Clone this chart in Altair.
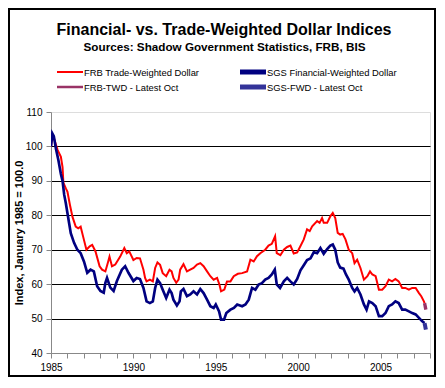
import altair as alt
import pandas as pd

# ---- data ----
frb_years = [1985.0, 1985.08, 1985.17, 1985.3, 1985.4, 1985.5, 1985.6, 1985.7, 1985.75, 1985.9,
             1986.0, 1986.15, 1986.3, 1986.5, 1986.65, 1986.8, 1986.95, 1987.15, 1987.35, 1987.5,
             1987.7, 1987.95, 1988.1, 1988.3, 1988.45, 1988.55, 1988.7, 1988.9, 1989.2, 1989.45,
             1989.6, 1989.75, 1990.0, 1990.2, 1990.4, 1990.61, 1990.71, 1990.8, 1991.0, 1991.18,
             1991.32, 1991.46, 1991.62, 1991.78, 1991.99, 1992.19, 1992.32, 1992.43, 1992.6, 1992.74,
             1992.84, 1993.04, 1993.25, 1993.45, 1993.65, 1993.86, 1994.06, 1994.26, 1994.47, 1994.67,
             1994.87, 1995.08, 1995.22, 1995.32, 1995.52, 1995.68, 1995.89, 1996.09, 1996.34, 1996.6,
             1996.9, 1997.1, 1997.3, 1997.5, 1997.7, 1998.0, 1998.2, 1998.4, 1998.6, 1998.7,
             1998.92, 1999.13, 1999.33, 1999.53, 1999.73, 1999.94, 2000.14, 2000.34, 2000.54, 2000.7,
             2000.85, 2001.15, 2001.3, 2001.45, 2001.55, 2001.76, 2001.95, 2002.1, 2002.25, 2002.4,
             2002.55, 2002.7, 2002.87, 2003.07, 2003.28, 2003.42, 2003.58, 2003.78, 2003.99, 2004.2,
             2004.36, 2004.5, 2004.7, 2004.9, 2005.1, 2005.3, 2005.5, 2005.7, 2005.9, 2006.1,
             2006.31, 2006.5, 2006.72, 2006.92, 2007.13, 2007.33, 2007.47, 2007.63, 2007.67]
frb_values = [100.0, 103.0, 102.5, 100.5, 99.0, 98.0, 97.0, 94.0, 89.5, 87.8,
              86.8, 83.0, 79.6, 76.7, 76.2, 76.7, 73.8, 70.0, 71.0, 71.4,
              69.5, 65.2, 64.2, 63.7, 66.2, 68.0, 65.2, 65.7, 68.0, 70.5,
              69.0, 69.5, 67.0, 67.6, 67.5, 64.2, 61.8, 60.8, 61.3, 60.8,
              64.7, 66.3, 65.6, 63.2, 62.3, 64.2, 63.7, 61.8, 60.4, 61.3,
              64.2, 65.8, 63.7, 64.2, 64.7, 65.7, 66.1, 65.2, 63.7, 62.3,
              61.3, 61.8, 59.9, 57.9, 58.4, 60.8, 60.8, 62.3, 63.0, 63.2,
              63.7, 67.1, 66.6, 68.1, 69.0, 70.0, 71.2, 71.7, 73.9, 69.0,
              68.4, 70.0, 70.8, 71.2, 68.9, 69.2, 71.1, 73.0, 75.9, 75.4,
              76.8, 78.3, 77.8, 79.2, 77.8, 77.8, 79.7, 80.7, 79.2, 74.9,
              74.4, 74.6, 73.0, 70.0, 69.0, 66.1, 67.1, 64.7, 61.3, 62.3,
              63.7, 62.8, 62.3, 58.4, 58.4, 59.4, 61.3, 60.8, 61.5, 60.8,
              58.9, 58.9, 58.4, 58.9, 58.9, 57.4, 56.5, 55.0, 54.5]

sgs_years = [1985.0, 1985.08, 1985.17, 1985.3, 1985.45, 1985.6, 1985.7, 1985.8, 1985.9, 1986.0,
             1986.1, 1986.2, 1986.4, 1986.6, 1986.8, 1987.0, 1987.2, 1987.4, 1987.6, 1987.8,
             1988.0, 1988.2, 1988.3, 1988.4, 1988.6, 1988.8, 1989.0, 1989.3, 1989.5, 1989.7,
             1990.0, 1990.2, 1990.4, 1990.61, 1990.8, 1991.0, 1991.18, 1991.32, 1991.46, 1991.62,
             1991.78, 1991.99, 1992.19, 1992.32, 1992.43, 1992.64, 1992.8, 1992.88, 1993.04, 1993.25,
             1993.45, 1993.65, 1993.86, 1994.06, 1994.26, 1994.47, 1994.67, 1994.87, 1995.0, 1995.2,
             1995.32, 1995.5, 1995.64, 1995.89, 1996.1, 1996.3, 1996.6, 1996.8, 1997.0, 1997.2,
             1997.4, 1997.6, 1997.8, 1998.0, 1998.2, 1998.4, 1998.58, 1998.7, 1998.9, 1999.13,
             1999.33, 1999.53, 1999.73, 1999.94, 2000.14, 2000.34, 2000.54, 2000.75, 2000.95, 2001.15,
             2001.35, 2001.55, 2001.76, 2001.95, 2002.1, 2002.25, 2002.4, 2002.55, 2002.75, 2002.9,
             2003.07, 2003.28, 2003.42, 2003.58, 2003.78, 2003.99, 2004.15, 2004.3, 2004.5, 2004.7,
             2004.9, 2005.1, 2005.3, 2005.5, 2005.7, 2005.9, 2006.1, 2006.31, 2006.5, 2006.72,
             2006.92, 2007.13, 2007.33, 2007.53, 2007.67]
sgs_values = [100.0, 103.8, 103.0, 99.3, 96.0, 92.0, 90.0, 86.0, 83.5, 80.6,
              77.7, 74.8, 72.0, 70.0, 69.0, 66.6, 63.3, 64.2, 63.7, 59.4,
              58.0, 57.5, 60.4, 61.8, 59.0, 58.0, 60.9, 64.2, 65.2, 63.3,
              60.9, 61.8, 61.5, 58.9, 55.0, 54.5, 55.0, 58.9, 61.3, 60.3,
              58.4, 56.0, 58.4, 57.4, 55.5, 53.8, 55.0, 57.9, 58.6, 56.5,
              57.0, 57.9, 57.0, 58.6, 57.4, 55.5, 53.6, 53.1, 54.1, 52.1,
              49.7, 49.7, 51.6, 52.6, 53.1, 54.1, 53.6, 54.1, 55.5, 58.9,
              58.4, 59.9, 60.3, 61.3, 61.8, 62.8, 64.2, 59.9, 58.9, 60.8,
              61.8, 60.8, 59.9, 61.5, 64.0, 65.5, 67.0, 67.5, 69.3, 69.0,
              70.5, 68.8, 70.2, 71.2, 71.5, 70.0, 66.3, 64.8, 64.5, 62.8,
              61.3, 58.9, 57.9, 58.9, 57.0, 54.1, 52.6, 55.0, 54.5, 53.6,
              50.7, 50.7, 51.6, 53.6, 54.1, 55.0, 54.5, 52.6, 52.6, 52.1,
              51.6, 51.2, 50.2, 49.2, 48.7]

frb_latest_years = [2007.67, 2007.75]
frb_latest_values = [54.5, 52.6]
sgs_latest_years = [2007.67, 2007.75]
sgs_latest_values = [48.7, 46.8]

series_names = ["FRB Trade-Weighted Dollar", "SGS Financial-Weighted Dollar",
                "FRB-TWD - Latest Oct", "SGS-FWD - Latest Oct"]
series_colors = ["#FF0000", "#000080", "#993366", "#333399"]
series_widths = [2, 4, 2.5, 4]

title_text = "Financial- vs. Trade-Weighted Dollar Indices"
subtitle_text = "Sources: Shadow Government Statistics, FRB, BIS"
y_title = "Index, January 1985 = 100.0"

y_ticks = [40, 50, 60, 70, 80, 90, 100, 110]
x_ticks = list(range(1985, 2009))

rows = []
for name, ys, vs in [(series_names[0], frb_years, frb_values),
                     (series_names[2], frb_latest_years, frb_latest_values),
                     (series_names[1], sgs_years, sgs_values),
                     (series_names[3], sgs_latest_years, sgs_latest_values)]:
    for i, (yr, v) in enumerate(zip(ys, vs)):
        rows.append({"series": name, "year": yr, "value": v, "idx": i})
df = pd.DataFrame(rows)

FONT = "Liberation Sans"
one = alt.Data(values=[{"a": 1}])

lines = alt.Chart(df).mark_line(clip=True).encode(
    x=alt.X("year:Q",
            scale=alt.Scale(domain=[1985, 2008], nice=False, zero=False),
            axis=alt.Axis(values=x_ticks, format="d",
                          labelExpr="datum.value % 5 === 0 ? datum.label : ''",
                          labelOverlap=False, labelFlush=False, title=None, grid=False,
                          tickSize=5, labelPadding=4)),
    y=alt.Y("value:Q",
            scale=alt.Scale(domain=[40, 110], nice=False, zero=False),
            axis=alt.Axis(values=y_ticks, title=y_title,
                          grid=True,
                          gridColor={"condition": {"test": "datum.value >= 110 || datum.value <= 40",
                                                   "value": "transparent"}, "value": "black"},
                          tickSize=5, labelPadding=4, titlePadding=1)),
    color=alt.Color("series:N", scale=alt.Scale(domain=series_names, range=series_colors), legend=None),
    strokeWidth=alt.StrokeWidth("series:N", scale=alt.Scale(domain=series_names, range=series_widths),
                                legend=None),
    order="idx:Q",
    detail="series:N",
)

# legend drawn as marks (2 x 2 grid)
legend_layers = []
col_x = [6, 189]
row_y = [-40, -25]
for k, (name, colr, w) in enumerate(zip(series_names, series_colors, series_widths)):
    cx = col_x[k % 2]
    ry = row_y[k // 2]
    legend_layers.append(
        alt.Chart(one).mark_rule(color=colr, strokeWidth=w + 1 if w >= 3 else w).encode(
            x=alt.value(cx), x2=alt.value(cx + 26), y=alt.value(ry))
    )
    legend_layers.append(
        alt.Chart(one).mark_text(align="left", baseline="middle", font=FONT, fontSize=9.4,
                                 color="black").encode(
            x=alt.value(cx + 27), y=alt.value(ry + 0.5), text=alt.value(name))
    )

title_layer = alt.Chart(one).mark_text(align="center", baseline="alphabetic", font=FONT,
                                       fontSize=16, fontWeight="bold", color="black").encode(
    x=alt.value(173), y=alt.value(-77), text=alt.value(title_text))
subtitle_layer = alt.Chart(one).mark_text(align="center", baseline="alphabetic", font=FONT,
                                          fontSize=11.7, fontWeight="bold", color="black").encode(
    x=alt.value(173.5), y=alt.value(-61.3), text=alt.value(subtitle_text))

frame = alt.Chart(one).mark_rect(fill="transparent", stroke="black", strokeWidth=2).encode(
    x=alt.value(-42), x2=alt.value(384), y=alt.value(-103), y2=alt.value(264)
)

chart = alt.layer(lines, *legend_layers, title_layer, subtitle_layer, frame).properties(
    width=379, height=241,
    padding={"left": 43, "top": 104, "right": 6, "bottom": 25},
    autosize="none",
).configure_view(
    stroke="#808080", strokeWidth=1
).configure_axis(
    domainColor="black", tickColor="black", labelColor="black", titleColor="black",
    labelFont=FONT, labelFontSize=10, labelFontWeight="bold",
    titleFont=FONT, titleFontSize=10, titleFontWeight="bold",
    domainWidth=1, gridWidth=1,
).configure(background="white")

chart.save("out.html", embed_options={"renderer": "svg", "actions": False})
